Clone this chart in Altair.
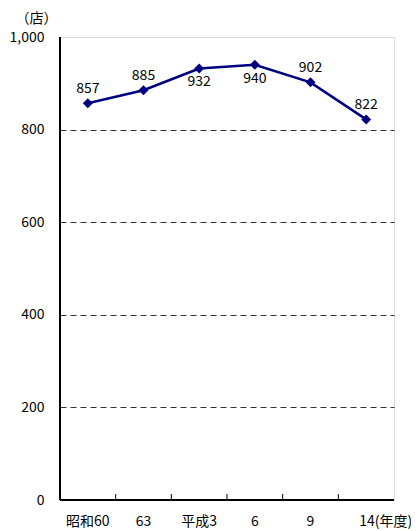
import altair as alt
import pandas as pd

years = ["昭和60", "63", "平成3", "6", "9", "14"]
stores = [857, 885, 932, 940, 902, 822]
labels_below = ["平成3", "6"]
y_ticks = [0, 200, 400, 600, 800, 1000]

df = pd.DataFrame({"year": years, "stores": stores})
df["below"] = df["year"].isin(labels_below)

FONT = "Noto Sans CJK JP"
FS = 14
W, H = 334, 463

x = alt.X("year:N", sort=years, scale=alt.Scale(paddingInner=0, paddingOuter=0),
          axis=alt.Axis(title=None, ticks=False, domain=False, labelAngle=0,
                        labelFont=FONT, labelFontSize=FS, labelColor="black",
                        labelPadding=14, labelBaseline="top",
                        labelExpr="datum.value == '14' ? '14(年度)' : datum.value",
                        labelAlign=alt.ExprRef("datum.value == '14' ? 'left' : 'center'"),
                        labelOffset=alt.ExprRef("datum.value == '14' ? -7 : 0")))
y = alt.Y("stores:Q", scale=alt.Scale(domain=[0, 1000], nice=False),
          axis=alt.Axis(title="（店）", titleAngle=0, titleX=-24, titleY=-19,
                        titleAlign="center", titleBaseline="middle",
                        titleFont=FONT, titleFontSize=FS, titleFontWeight="normal",
                        titleColor="black",
                        values=y_ticks, format=",d", ticks=False, domain=False,
                        labelFont=FONT, labelFontSize=FS, labelColor="black",
                        labelPadding=16, grid=True, gridColor="#333333",
                        gridDash=[6, 4], gridWidth=1,
                        gridOpacity={"condition": {"test": "datum.value == 0 || datum.value == 1000", "value": 0}, "value": 1}))

base = alt.Chart(df)

line = base.mark_line(color="#000080", strokeWidth=2.5).encode(x=x, y=y)
pts = base.mark_point(shape="diamond", filled=True, size=100, color="#000080", opacity=1).encode(
    x=alt.X("year:N", sort=years), y="stores:Q")

txt_above = base.transform_filter("!datum.below").mark_text(
    dy=-14, font=FONT, fontSize=FS, color="black", baseline="middle"
).encode(x=alt.X("year:N", sort=years), y="stores:Q", text="stores:Q")
txt_below = base.transform_filter("datum.below").mark_text(
    dy=14, font=FONT, fontSize=FS, color="black", baseline="middle"
).encode(x=alt.X("year:N", sort=years), y="stores:Q", text="stores:Q")

ticks = base.transform_filter(f"datum.year != '{years[0]}'").mark_rule(
    color="black", strokeWidth=1
).encode(x=alt.X("year:N", sort=years, bandPosition=0),
         y=alt.value(H - 6), y2=alt.value(H))

left_axis = alt.Chart(df).mark_rule(color="black", strokeWidth=2).encode(
    x=alt.value(0), y=alt.value(0), y2=alt.value(H))
bottom_axis = alt.Chart(df).mark_rule(color="black", strokeWidth=2).encode(
    x=alt.value(0), x2=alt.value(W), y=alt.value(H))

chart = alt.layer(line, pts, txt_above, txt_below, ticks, left_axis, bottom_axis).properties(
    width=W, height=H,
    autosize=alt.AutoSizeParams(type="none"),
    padding={"left": 52, "top": 29, "right": 17, "bottom": 31},
).configure_view(stroke="#808080", strokeWidth=2).configure(background="white")

chart.save("out.html", embed_options={"renderer": "svg", "actions": False})
